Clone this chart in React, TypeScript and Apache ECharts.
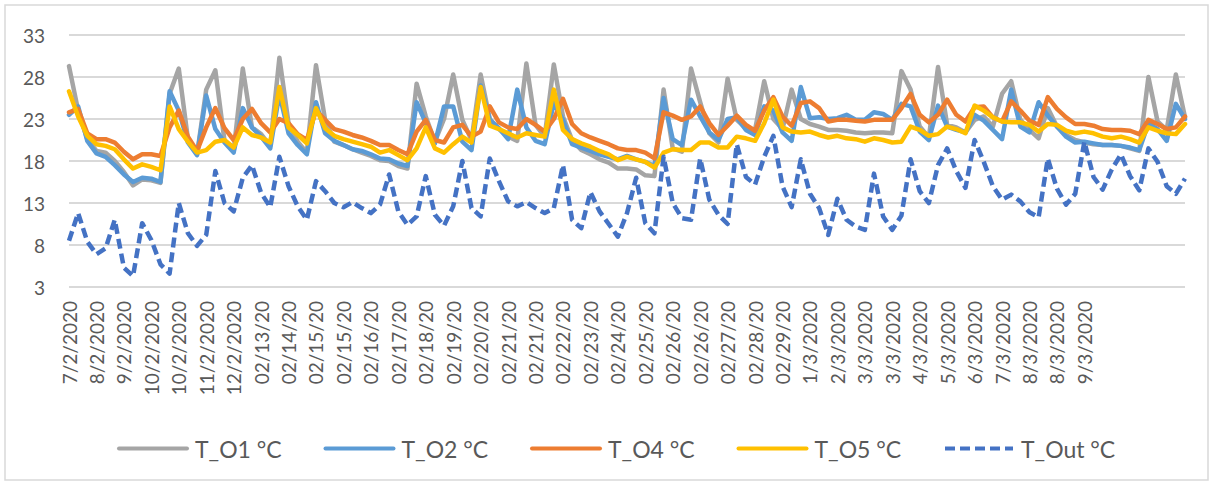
import React, { useEffect, useRef } from "react";
import * as echarts from "echarts";

const ticks = [
  "7/2/2020", "8/2/2020", "9/2/2020", "10/2/2020", "10/2/2020", "11/2/2020", "12/2/2020",
  "02/13/20", "02/14/20", "02/15/20", "02/15/20", "02/16/20", "02/17/20", "02/18/20",
  "02/19/20", "02/20/20", "02/21/20", "02/21/20", "02/22/20", "02/23/20", "02/24/20",
  "02/25/20", "02/26/20", "02/26/20", "02/27/20", "02/28/20", "02/29/20", "1/3/2020",
  "2/3/2020", "3/3/2020", "3/3/2020", "4/3/2020", "5/3/2020", "6/3/2020", "7/3/2020",
  "8/3/2020", "8/3/2020", "9/3/2020",
];

const tO1 = [
  29.3, 24.0, 20.6, 19.2, 19.0, 18.0, 16.7, 15.1, 15.8, 15.7,
  15.4, 26.0, 29.0, 20.6, 18.8, 26.5, 28.8, 20.4, 19.2, 29.0,
  22.0, 21.2, 19.8, 30.3, 22.5, 20.3, 19.0, 29.4, 22.9, 20.3,
  19.9, 19.4, 19.0, 18.6, 18.1, 18.0, 17.4, 17.1, 27.2, 23.3,
  20.3, 23.0, 28.3, 22.9, 20.5, 28.3, 23.0, 21.8, 20.9, 20.4,
  29.6, 22.3, 20.9, 29.5, 23.3, 20.5, 19.3, 18.8, 18.2, 17.8,
  17.1, 17.1, 17.0, 16.3, 16.2, 26.5, 19.5, 19.1, 29.0, 25.0,
  21.3, 20.2, 27.8, 22.9, 21.9, 21.7, 27.5, 23.0, 21.8, 26.5,
  23.0, 22.4, 22.1, 21.7, 21.7, 21.6, 21.4, 21.3, 21.4, 21.4,
  21.3, 28.7, 26.5, 22.1, 20.8, 29.2, 22.3, 22.0, 21.4, 22.9,
  23.3, 22.1, 26.0, 27.5, 22.9, 21.7, 20.7, 24.3, 22.1, 21.1,
  20.5, 20.2, 20.0, 19.9, 19.9, 19.8, 19.5, 19.2, 28.0, 22.7,
  21.7, 28.3, 23.2,
];

const tO2 = [
  23.5, 24.5, 20.4, 18.9, 18.5, 17.5, 16.4, 15.5, 16.0, 15.9,
  15.5, 26.3, 24.0, 20.2, 18.7, 25.8, 21.8, 20.2, 19.0, 24.3,
  22.0, 20.9, 19.5, 26.0, 21.3, 19.9, 18.8, 25.0, 21.3, 20.4,
  19.9, 19.4, 19.2, 18.8, 18.3, 18.2, 17.7, 17.4, 25.0, 22.5,
  20.1, 24.5, 24.5, 20.3, 19.3, 27.0, 22.9, 21.9, 20.6, 26.5,
  22.0, 20.4, 20.0, 24.9, 22.9, 20.0, 19.6, 19.2, 18.8, 18.5,
  18.2, 18.6, 18.2, 17.9, 17.4, 25.5, 20.6, 19.9, 25.3, 23.3,
  21.4, 20.5, 23.0, 23.2, 21.7, 21.1, 24.5, 24.0, 21.4, 20.4,
  26.8, 23.1, 23.2, 23.0, 23.1, 23.5, 22.9, 22.9, 23.8, 23.6,
  22.9, 24.8, 24.5, 21.5, 20.5, 24.6, 22.1, 21.7, 21.4, 23.5,
  22.8, 21.7, 20.6, 26.5, 22.1, 21.4, 25.0, 23.4, 22.1, 20.9,
  20.2, 20.3, 20.1, 19.9, 19.9, 19.8, 19.6, 19.3, 22.5, 21.8,
  20.4, 24.8, 23.0,
];

const tO4 = [
  23.8, 24.2, 21.3, 20.6, 20.6, 20.2, 19.1, 18.2, 18.8, 18.8,
  18.6, 22.0, 24.0, 20.9, 19.2, 22.0, 24.3, 21.9, 20.5, 23.0,
  24.2, 22.5, 21.4, 23.0, 22.5, 21.2, 20.5, 24.0, 22.9, 21.8,
  21.5, 21.1, 20.8, 20.4, 19.9, 19.9, 19.3, 18.8, 21.5, 22.9,
  20.5, 20.2, 22.0, 22.3, 20.9, 21.5, 24.5, 22.6, 22.0, 21.8,
  23.0, 22.3, 21.5, 23.0, 25.4, 22.4, 21.3, 20.8, 20.4, 20.0,
  19.5, 19.3, 19.3, 19.0, 18.3, 23.8, 23.4, 22.9, 23.3, 24.5,
  22.5, 21.1, 22.2, 23.4, 22.3, 21.6, 24.0, 25.6, 23.3, 22.2,
  24.9, 25.1, 24.3, 22.7, 22.9, 22.9, 22.8, 22.7, 22.9, 22.9,
  22.9, 24.3, 26.0, 23.5, 22.6, 23.5, 25.3, 23.5, 22.7, 24.4,
  24.5, 23.2, 22.7, 25.1, 24.0, 22.8, 22.3, 25.6, 24.2, 23.2,
  22.4, 22.4, 22.2, 21.8, 21.7, 21.7, 21.6, 21.2, 22.9, 22.4,
  21.8, 22.0, 23.3,
];

const tO5 = [
  26.3, 23.3, 21.0, 20.0, 19.8, 19.4, 18.2, 17.1, 17.6, 17.3,
  16.9, 24.5, 21.8, 20.3, 19.0, 19.3, 20.3, 20.5, 19.6, 22.0,
  21.1, 20.8, 20.2, 26.8, 22.0, 21.1, 20.1, 24.3, 21.9, 21.0,
  20.6, 20.3, 20.0, 19.7, 19.0, 19.3, 18.7, 18.1, 19.5, 22.0,
  19.5, 19.0, 20.0, 20.9, 20.2, 26.8, 22.2, 21.8, 21.3, 20.8,
  21.3, 21.1, 20.9, 26.5, 21.7, 20.6, 20.1, 19.7, 19.2, 18.8,
  18.1, 18.5, 18.2, 17.9, 17.2, 19.0, 19.4, 19.3, 19.3, 20.2,
  20.2, 19.6, 19.6, 20.9, 20.7, 20.4, 22.5, 25.3, 22.0, 21.5,
  21.4, 21.5, 21.1, 20.8, 21.0, 20.7, 20.6, 20.3, 20.7, 20.5,
  20.2, 20.3, 22.1, 21.7, 21.0, 21.2, 22.1, 21.8, 21.3, 24.6,
  24.0, 23.2, 22.7, 22.6, 22.6, 22.3, 21.5, 22.4, 22.3, 21.6,
  21.3, 21.5, 21.3, 20.9, 20.7, 20.9, 20.6, 20.2, 22.0, 21.6,
  21.3, 21.2, 22.4,
];

const tOut = [
  8.5, 11.8, 8.4, 6.9, 7.6, 11.0, 5.3, 4.3, 10.6, 8.6,
  5.7, 4.6, 13.0, 9.4, 7.9, 9.2, 16.8, 13.0, 12.0, 16.0,
  17.5, 14.2, 12.5, 18.5, 15.0, 12.6, 11.0, 15.6, 14.4, 13.0,
  12.5, 13.1, 12.4, 11.8, 12.8, 16.4, 12.0, 10.4, 11.4, 16.2,
  11.6, 10.3, 12.6, 18.0, 12.4, 11.4, 18.3, 15.6, 13.2, 12.6,
  13.1, 12.4, 11.8, 12.4, 17.5, 11.0, 10.0, 14.3, 12.0, 10.5,
  9.0, 11.8, 16.0, 10.6, 9.4, 18.5, 13.0, 11.2, 11.0, 18.3,
  13.4, 11.6, 10.5, 20.0, 16.1, 15.2, 18.5, 21.0, 15.0, 12.5,
  18.2, 14.1, 12.4, 9.2, 13.5, 11.0, 10.2, 9.8, 16.5, 11.4,
  9.8, 11.5, 18.2, 14.4, 13.0, 17.5, 19.5, 16.8, 14.8, 20.5,
  17.9, 15.0, 13.4, 14.0, 13.2, 11.9, 11.3, 18.3, 14.7, 12.8,
  14.1, 20.3, 16.1, 14.6, 17.0, 18.8, 16.2, 14.5, 19.5, 17.9,
  15.0, 14.1, 15.9,
];

const seriesNames = ["T_O1 °C", "T_O2 °C", "T_O4 °C", "T_O5 °C", "T_Out °C"];
const seriesColors = ["#A5A5A5", "#5B9BD5", "#ED7D31", "#FFC000", "#4472C4"];
const seriesData = [tO1, tO2, tO4, tO5, tOut];

const POINTS_PER_TICK = 3;

export default function App() {
  const ref = useRef<HTMLDivElement>(null);

  useEffect(() => {
    document.body.style.margin = "0";
    if (!ref.current) return;
    const chart = echarts.init(ref.current, null, { renderer: "svg" });

    const categories = tO1.map((_, i) =>
      i % POINTS_PER_TICK === 0 && i / POINTS_PER_TICK < ticks.length
        ? ticks[i / POINTS_PER_TICK]
        : ""
    );

    const font = "Lato, 'Open Sans', sans-serif";
    const textColor = "#595959";
    const dash = [10, 5];
    const lw = 4.5;

    const option: any = {
      animation: false,
      backgroundColor: "#ffffff",
      grid: { left: 69, right: 28, top: 35, bottom: 199, containLabel: false },
      graphic: [
        {
          type: "rect",
          shape: { x: 5, y: 5, width: 1203, height: 475 },
          style: { fill: "none", stroke: "#d9d9d9", lineWidth: 1.5 },
          silent: true,
        },
      ],
      legend: seriesNames.map((n, i) => ({
        data: [n],
        left: 117 + 206.5 * i,
        top: 437,
        itemWidth: 68,
        itemHeight: 22,
        itemGap: 0,
        padding: 0,
        selectedMode: false,
        itemStyle: { opacity: 0 },
        lineStyle: i === 4 ? { width: 4, type: dash } : { width: 4 },
        textStyle: { fontSize: 23, color: textColor, fontFamily: font, padding: [0, 0, 0, 3] },
      })),
      xAxis: {
        type: "category",
        data: categories,
        boundaryGap: false,
        axisLine: { show: false },
        axisTick: { show: false },
        splitLine: { show: false },
        axisLabel: {
          rotate: 90,
          interval: (_idx: number, value: string) => value !== "",
          fontSize: 19,
          color: textColor,
          fontFamily: font,
          margin: 14,
        },
      },
      yAxis: {
        type: "value",
        min: 3,
        max: 33,
        interval: 5,
        axisLine: { show: false },
        axisTick: { show: false },
        axisLabel: { fontSize: 19, color: textColor, fontFamily: font, margin: 24 },
        splitLine: { lineStyle: { color: "#d9d9d9", width: 2 } },
      },
      series: seriesNames.map((n, i) => ({
        name: n,
        type: "line",
        data: seriesData[i],
        symbol: "none",
        showSymbol: false,
        smooth: false,
        itemStyle: { color: seriesColors[i] },
        lineStyle: {
          color: seriesColors[i],
          width: lw,
          type: i === 4 ? dash : "solid",
          join: "round",
          cap: i === 4 ? "butt" : "round",
        },
        emphasis: { disabled: true },
      })),
    };

    chart.setOption(option);
    return () => chart.dispose();
  }, []);

  return <div ref={ref} style={{ width: 1213, height: 486 }} />;
}
